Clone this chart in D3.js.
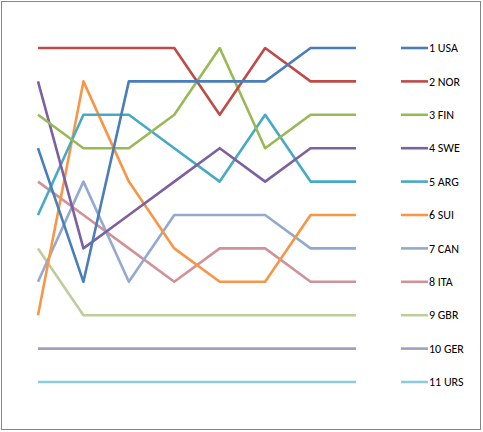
<!DOCTYPE html>
<html lang="en">
<head>
<meta charset="UTF-8" />
<title>Ranking chart</title>
<style>
  body { margin: 0; background: #fff; }
  svg text { font-family: Carlito, Calibri, "Open Sans", "Liberation Sans", sans-serif; }
</style>
</head>
<body>
<div id="chart"></div>
<script src="https://cdn.jsdelivr.net/npm/d3@7"></script>
<script>
// rounds along the x axis (no labels shown in the chart)
var rounds = [1, 2, 3, 4, 5, 6, 7, 8];

// series names, as in the legend
var teams = ["1 USA", "2 NOR", "3 FIN", "4 SWE", "5 ARG", "6 SUI",
             "7 CAN", "8 ITA", "9 GBR", "10 GER", "11 URS"];

// rank of each team after each round
var usa = [4, 8, 2, 2, 2, 2, 1, 1];
var nor = [1, 1, 1, 1, 3, 1, 2, 2];
var fin = [3, 4, 4, 3, 1, 4, 3, 3];
var swe = [2, 7, 6, 5, 4, 5, 4, 4];
var arg = [6, 3, 3, 4, 5, 3, 5, 5];
var sui = [9, 2, 5, 7, 8, 8, 6, 6];
var can = [8, 5, 8, 6, 6, 6, 7, 7];
var ita = [5, 6, 7, 8, 7, 7, 8, 8];
var gbr = [7, 9, 9, 9, 9, 9, 9, 9];
var ger = [10, 10, 10, 10, 10, 10, 10, 10];
var urs = [11, 11, 11, 11, 11, 11, 11, 11];

var ranks = [usa, nor, fin, swe, arg, sui, can, ita, gbr, ger, urs];

var colors = ["#4A7EBB", "#BE4B48", "#98B954", "#7D60A0", "#46AAC5", "#F79646",
              "#93A9CF", "#D09299", "#BCCF9B", "#A29EBE", "#8DCBD9"];

var w = 483, h = 432;

var svg = d3.select("#chart")
            .append("svg")
            .attr("width", w)
            .attr("height", h);

// outer frame
svg.append("rect")
   .attr("x", 1.5)
   .attr("y", 1.5)
   .attr("width", 479)
   .attr("height", 428)
   .attr("fill", "#fff")
   .attr("stroke", "#868686")
   .attr("stroke-width", 1);

var xScale = d3.scalePoint()
               .domain(rounds)
               .range([38, 356]);

var yScale = d3.scaleLinear()
               .domain([1, 11])
               .range([48, 382]);

var line = d3.line()
             .x(function(d, i) { return xScale(rounds[i]); })
             .y(function(d) { return yScale(d); });

// draw from last to first so the top series sit on top
var order = d3.range(teams.length).reverse();

svg.selectAll("path.series")
   .data(order)
   .enter()
   .append("path")
   .attr("class", "series")
   .attr("d", function(k) { return line(ranks[k]); })
   .attr("fill", "none")
   .attr("stroke", function(k) { return colors[k]; })
   .attr("stroke-width", 2.6)
   .attr("stroke-linejoin", "round");

// legend, one row per rank
var legend = svg.selectAll("g.legend")
                .data(teams)
                .enter()
                .append("g")
                .attr("class", "legend")
                .attr("transform", function(d, i) { return "translate(0," + yScale(i + 1) + ")"; });

legend.append("line")
      .attr("x1", 401)
      .attr("x2", 428)
      .attr("stroke", function(d, i) { return colors[i]; })
      .attr("stroke-width", 2.6);

legend.append("text")
      .attr("x", 429)
      .attr("dy", "0.35em")
      .style("font-size", "12px")
      .style("fill", "#000")
      .text(function(d) { return d; });
</script>
</body>
</html>
